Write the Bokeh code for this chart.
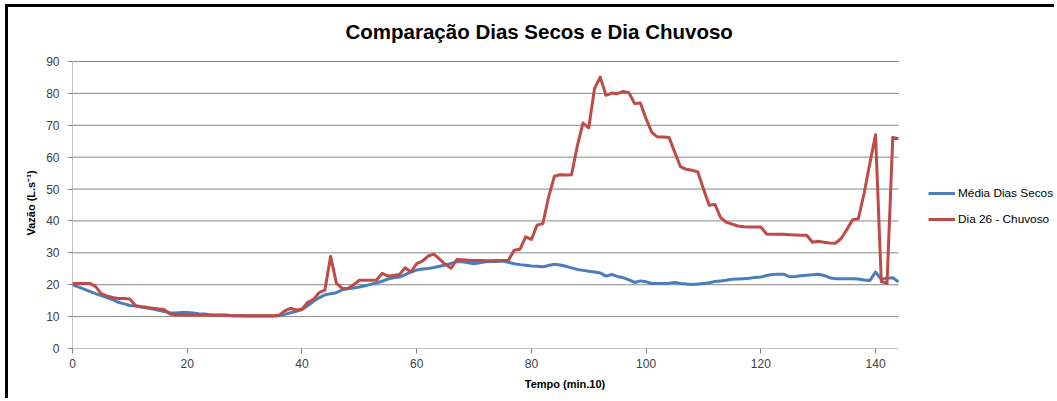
from bokeh.plotting import figure
from bokeh.models import FixedTicker, Legend, LegendItem
from bokeh.embed import file_html
from bokeh.resources import INLINE

tempo = list(range(145))

media_dias_secos = [
    20.0, 19.3, 18.6, 17.9, 17.2, 16.6, 16.0, 15.3, 14.5, 14.0,
    13.5, 13.3, 13.0, 12.7, 12.4, 12.0, 11.6, 11.2, 11.1, 11.3,
    11.3, 11.1, 10.9, 10.8, 10.6, 10.5, 10.4, 10.4, 10.3, 10.3,
    10.2, 10.2, 10.2, 10.2, 10.2, 10.2, 10.3, 10.7, 11.2, 11.7,
    12.2, 13.4, 14.8, 15.9, 16.8, 17.2, 17.5, 18.4, 18.7, 19.0,
    19.3, 19.7, 20.1, 20.6, 21.1, 21.8, 22.2, 22.4, 23.2, 24.0,
    24.6, 24.9, 25.1, 25.4, 25.8, 26.2, 26.7, 27.2, 27.2, 26.9,
    26.6, 26.9, 27.2, 27.3, 27.3, 27.4, 27.0, 26.6, 26.3, 26.1,
    25.9, 25.8, 25.6, 26.0, 26.4, 26.2, 25.8, 25.3, 24.8, 24.5,
    24.2, 24.0, 23.7, 22.7, 23.2, 22.6, 22.2, 21.5, 20.7, 21.2,
    20.9, 20.4, 20.4, 20.4, 20.5, 20.7, 20.4, 20.2, 20.1, 20.2,
    20.4, 20.6, 21.0, 21.2, 21.4, 21.7, 21.8, 21.9, 22.0, 22.3,
    22.4, 22.9, 23.2, 23.3, 23.3, 22.5, 22.6, 22.8, 23.0, 23.1,
    23.3, 22.9, 22.2, 21.9, 21.9, 21.9, 21.9, 21.8, 21.5, 21.3,
    24.0, 21.7, 22.0, 22.2, 20.9,
]

dia26_chuvoso = [
    20.4, 20.4, 20.4, 20.4, 19.5, 17.2, 16.5, 16.0, 15.7, 15.7,
    15.5, 13.4, 13.1, 12.9, 12.6, 12.4, 12.2, 10.8, 10.6, 10.6,
    10.6, 10.5, 10.5, 10.5, 10.4, 10.4, 10.5, 10.4, 10.3, 10.3,
    10.3, 10.3, 10.3, 10.3, 10.3, 10.3, 10.4, 11.8, 12.6, 12.1,
    12.3, 14.5, 15.4, 17.5, 18.3, 28.9, 20.5, 18.9, 18.8, 20.0,
    21.4, 21.4, 21.4, 21.5, 23.6, 22.7, 22.9, 23.2, 25.3, 24.0,
    26.6, 27.4, 29.0, 29.6, 28.0, 26.4, 25.2, 27.9, 27.8, 27.7,
    27.6, 27.6, 27.5, 27.5, 27.6, 27.6, 27.7, 30.8, 31.1, 35.0,
    34.2, 38.7, 39.2, 47.5, 54.0, 54.5, 54.4, 54.5, 63.5, 70.7,
    69.2, 81.5, 85.1, 79.4, 80.1, 79.9, 80.6, 80.2, 76.8, 77.0,
    72.0, 67.8, 66.3, 66.3, 66.2, 61.5, 57.0, 56.2, 55.9, 55.4,
    50.0, 44.9, 45.2, 41.0, 39.6, 39.0, 38.4, 38.2, 38.1, 38.1,
    38.1, 35.9, 35.8, 35.8, 35.8, 35.7, 35.6, 35.5, 35.5, 33.3,
    33.6, 33.3, 33.1, 33.0, 34.5, 37.3, 40.4, 40.7, 48.6, 58.0,
    67.0, 21.0, 20.4, 66.2, 65.8,
]

x_ticks = [0, 20, 40, 60, 80, 100, 120, 140]
y_ticks = [0, 10, 20, 30, 40, 50, 60, 70, 80, 90]
x_end = 144
y_end = 90

FONT = "Liberation Sans"
GRID = "#868686"

# The frame is widened (to the right and a little upwards) so that the legend
# lies inside it; the data domain 0..144 x 0..90 still maps onto the original
# plot area, whose gridlines and left axis line are drawn as segments.
p = figure(
    width=1049, height=394,
    x_range=(0, 171.72), y_range=(0, 91.254),
    output_backend="svg", toolbar_location=None,
    min_border_left=64, min_border_right=0,
    min_border_top=50, min_border_bottom=53,
    background_fill_color="white", border_fill_color="white",
    styles={"margin-left": "5px", "margin-top": "4px",
            "border-left": "3px solid #000", "border-top": "3px solid #000"},
)
p.outline_line_color = None

p.title.text = "Comparação Dias Secos e Dia Chuvoso"
p.title.text_font = FONT
p.title.text_font_size = "20.5px"
p.title.text_font_style = "bold"
p.title.text_color = "#000000"
p.title.align = "left"
p.title.offset = 273
p.title.vertical_align = "top"
p.title.standoff = 25

# horizontal gridlines and the left axis line, limited to the data domain
p.segment(x0=[0] * len(y_ticks), y0=y_ticks, x1=[x_end] * len(y_ticks), y1=y_ticks,
          line_color=GRID, line_width=1)
p.segment(x0=[0], y0=[0], x1=[0], y1=[y_end], line_color=GRID, line_width=1)

r1 = p.line(tempo, media_dias_secos, line_color="#4A7EBB", line_width=3, line_join="round")
r2 = p.line(tempo, dia26_chuvoso, line_color="#BE4B48", line_width=3, line_join="round")

p.xgrid.visible = False
p.ygrid.visible = False

p.xaxis.ticker = FixedTicker(ticks=x_ticks)
p.yaxis.ticker = FixedTicker(ticks=y_ticks)
for ax in (p.xaxis[0], p.yaxis[0]):
    ax.axis_line_color = None
    ax.major_tick_line_color = GRID
    ax.minor_tick_line_color = None
    ax.major_tick_in = 0
    ax.major_tick_out = 5
    ax.major_label_text_font = FONT
    ax.major_label_text_font_size = "12px"
    ax.major_label_text_color = "#404040"
    ax.axis_label_text_font = FONT
    ax.axis_label_text_font_size = "11px"
    ax.axis_label_text_font_style = "bold"
    ax.axis_label_text_color = "#000000"

p.xaxis.axis_label = "Tempo (min.10)"
p.xaxis.major_label_standoff = 5
p.xaxis.axis_label_standoff = 7
p.yaxis.axis_label = "Vazão (L.s⁻¹)"
p.yaxis.major_label_standoff = 8
p.yaxis.axis_label_standoff = 6

legend = Legend(
    items=[
        LegendItem(label="Média Dias Secos", renderers=[r1]),
        LegendItem(label="Dia 26 - Chuvoso", renderers=[r2]),
    ],
    location=(856, 118),
    orientation="vertical",
    glyph_width=27, glyph_height=22, label_height=22,
    spacing=4, padding=0, margin=0, label_standoff=3,
    border_line_color=None, background_fill_alpha=0,
    label_text_font=FONT, label_text_font_size="11.8px",
    label_text_color="#000000",
)
p.add_layout(legend)

open("out.html", "w").write(file_html(p, INLINE))
